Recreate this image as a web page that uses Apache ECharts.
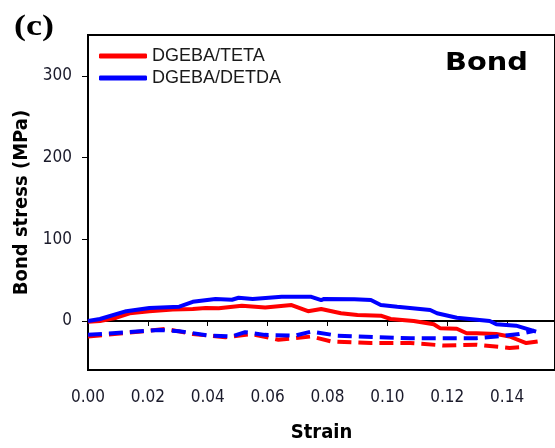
<!DOCTYPE html>
<html>
<head>
<meta charset="utf-8">
<script src="https://cdn.jsdelivr.net/npm/echarts@6/dist/echarts.min.js"></script>
<style>
html,body{margin:0;padding:0;background:#fff;}
#chart{width:555px;height:448px;}
</style>
</head>
<body>
<div id="chart"></div>
<script>
// DGEBA/TETA (solid, red)
var tetaX = [0, 0.004, 0.0095, 0.0139, 0.0205, 0.0283, 0.035, 0.0393, 0.0437, 0.0514, 0.0592, 0.068, 0.0735, 0.0779, 0.0845, 0.09, 0.0978, 0.1011, 0.1088, 0.1155, 0.1177, 0.1232, 0.1265, 0.1298, 0.1364, 0.1408, 0.1464, 0.1502];
var tetaY = [-1, 0, 4, 9.4, 12, 14, 14.6, 16, 15.5, 18.7, 16.5, 19.5, 12, 14.6, 9.4, 7.3, 6.5, 2.4, 0, -4, -9, -9.5, -15, -15, -16, -19, -27, -25];
// DGEBA/DETDA (solid, blue)
var detdaX = [0, 0.004, 0.0128, 0.0205, 0.0305, 0.035, 0.0426, 0.0481, 0.0503, 0.055, 0.0647, 0.0746, 0.0779, 0.0789, 0.089, 0.0945, 0.0978, 0.1033, 0.1143, 0.1166, 0.1232, 0.1342, 0.1364, 0.143, 0.1497];
var detdaY = [0, 2.4, 12, 16, 17.5, 23.5, 27, 26, 28.4, 27, 29.6, 29.6, 25.5, 27, 26.6, 25.6, 19.5, 17.4, 13.4, 9.4, 4, 0, -4, -5.7, -13];
// dashed curves
var tetaDashX = [0, 0.0117, 0.026, 0.035, 0.0459, 0.0547, 0.0636, 0.0746, 0.0812, 0.0945, 0.1077, 0.1188, 0.1298, 0.1408, 0.145];
var tetaDashY = [-19, -15, -9.7, -16, -20, -16, -23, -19, -25, -27, -27, -30, -29, -33, -32];
var detdaDashX = [0, 0.0117, 0.0238, 0.0305, 0.0404, 0.048, 0.0525, 0.059, 0.069, 0.0746, 0.0834, 0.0967, 0.1077, 0.1188, 0.1298, 0.1364, 0.1441, 0.1491];
var detdaDashY = [-17, -14, -11, -12.5, -17.8, -19, -13.7, -17, -18, -13, -18, -20, -21, -21, -21, -19, -16, -12];

var yTicks = [0, 100, 200, 300];
var legendNames = ['DGEBA/TETA', 'DGEBA/DETDA'];

function pairs(xs, ys) { return xs.map(function (x, i) { return [x, ys[i]]; }); }

var tickFont = 'DejaVu Sans Condensed';
var chart = echarts.init(document.getElementById('chart'), null, {renderer: 'canvas'});
chart.setOption({
  animation: false,
  backgroundColor: '#fff',
  grid: {left: 88, top: 35, width: 471, height: 337, show: true, borderColor: '#000', borderWidth: 2, backgroundColor: 'transparent'},
  legend: {
    data: legendNames, orient: 'vertical', left: 94, top: 42, itemGap: 4,
    itemWidth: 48, itemHeight: 5, icon: 'roundRect',
    textStyle: {fontFamily: 'Liberation Sans', fontSize: 18, color: '#1a1a1a', lineHeight: 18}
  },
  xAxis: {
    type: 'value', min: 0, max: 0.156, interval: 0.02,
    name: 'Strain', nameLocation: 'middle', nameGap: 53,
    nameTextStyle: {fontFamily: 'DejaVu Sans Condensed', fontWeight: 'bold', fontSize: 20, color: '#000'},
    axisLine: {show: true, lineStyle: {color: '#000', width: 2}},
    axisTick: {show: true, length: 5, lineStyle: {color: '#000', width: 1}},
    axisLabel: {showMaxLabel: false, margin: 19, fontFamily: tickFont, fontSize: 17, color: '#1a1a2a',
      formatter: function (v) { return v.toFixed(2); }},
    splitLine: {show: false}
  },
  yAxis: {
    type: 'value', min: -60, max: 350,
    name: 'Bond stress (MPa)', nameLocation: 'middle', nameGap: 55,
    nameTextStyle: {fontFamily: 'DejaVu Sans Condensed', fontWeight: 'bold', fontSize: 20, color: '#000'},
    axisLine: {show: true, lineStyle: {color: '#000', width: 2}},
    axisTick: {show: true, length: 6, customValues: yTicks, lineStyle: {color: '#000', width: 1}},
    axisLabel: {customValues: yTicks, margin: 16, fontFamily: tickFont, fontSize: 17, color: '#1a1a2a'},
    splitLine: {show: false}
  },
  graphic: [
    {type: 'text', x: 14, y: 27, scaleX: 1.2, style: {text: '(c)', font: 'bold 30px "Liberation Serif"', fill: '#000', align: 'left', verticalAlign: 'middle'}},
    {type: 'text', x: 445, y: 64, scaleX: 1.2, style: {text: 'Bond', font: 'bold 24px "DejaVu Sans"', fill: '#000', align: 'left', verticalAlign: 'middle'}}
  ],
  series: [
    {name: 'TETA dashed', type: 'line', data: pairs(tetaDashX, tetaDashY), showSymbol: false, symbol: 'none',
      lineStyle: {color: '#ff0000', width: 4, type: [14, 7]}, itemStyle: {color: '#ff0000'}},
    {name: 'DGEBA/TETA', type: 'line', data: pairs(tetaX, tetaY), showSymbol: false, symbol: 'none',
      lineStyle: {color: '#ff0000', width: 4}, itemStyle: {color: '#ff0000'}},
    {name: 'DETDA dashed', type: 'line', data: pairs(detdaDashX, detdaDashY), showSymbol: false, symbol: 'none',
      lineStyle: {color: '#0000ff', width: 4, type: [14, 7]}, itemStyle: {color: '#0000ff'}},
    {name: 'DGEBA/DETDA', type: 'line', data: pairs(detdaX, detdaY), showSymbol: false, symbol: 'none',
      lineStyle: {color: '#0000ff', width: 4}, itemStyle: {color: '#0000ff'}}
  ]
});
</script>
</body>
</html>
